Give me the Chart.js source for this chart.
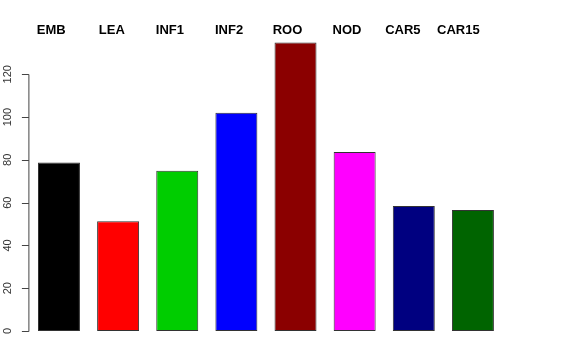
<!DOCTYPE html>
<html>
<head>
<meta charset="utf-8">
<script src="https://cdn.jsdelivr.net/npm/chart.js@4"></script>
<style>
html,body{margin:0;padding:0;background:#fff;}
#wrap{width:576px;height:360px;position:relative;}
</style>
</head>
<body>
<div id="wrap"><canvas id="c" width="576" height="360"></canvas></div>
<script>
const categories = ["EMB","LEA","INF1","INF2","ROO","NOD","CAR5","CAR15"];
const values = [78.8, 51.3, 74.9, 102, 134.8, 83.7, 58.4, 56.6];
const barColors = ["#000000","#FF0000","#00CD00","#0000FF","#8B0000","#FF00FF","#000080","#006400"];
const yTicks = [0,20,40,60,80,100,120];
const labelSlots = [0,1,2,3,4,5,6,7];

const axisPlugin = {
  id: 'rAxis',
  afterDraw(chart) {
    const ctx = chart.ctx;
    const y = chart.scales.y;
    const xl = chart.scales.xl;
    const left = chart.chartArea.left - 0.5;
    ctx.save();
    ctx.strokeStyle = '#444';
    ctx.lineWidth = 1;
    ctx.beginPath();
    const yTop = Math.round(y.getPixelForValue(yTicks[yTicks.length-1])) + 0.5;
    const yBot = Math.round(y.getPixelForValue(yTicks[0])) + 0.5;
    ctx.moveTo(left, yTop); ctx.lineTo(left, yBot);
    yTicks.forEach(t => {
      const py = Math.round(y.getPixelForValue(t)) + 0.5;
      ctx.moveTo(left, py); ctx.lineTo(left - 7, py);
    });
    ctx.stroke();
    ctx.fillStyle = '#333';
    ctx.font = '11px "Liberation Sans", Arial, sans-serif';
    ctx.textAlign = 'center';
    ctx.textBaseline = 'middle';
    yTicks.forEach(t => {
      const py = y.getPixelForValue(t);
      ctx.save();
      ctx.translate(left - 21, py);
      ctx.rotate(-Math.PI/2);
      ctx.fillText(String(t), 0, 0);
      ctx.restore();
    });
    ctx.fillStyle = '#000';
    ctx.font = 'bold 13px "Liberation Sans", Arial, sans-serif';
    ctx.textAlign = 'right';
    ctx.textBaseline = 'alphabetic';
    labelSlots.forEach((s, i) => {
      ctx.fillText(categories[i], xl.getPixelForValue(s), 34);
    });
    ctx.restore();
  }
};

new Chart(document.getElementById('c'), {
  type: 'bar',
  data: {
    labels: categories,
    datasets: [{
      data: values,
      backgroundColor: barColors,
      borderColor: '#333',
      borderWidth: 1,
      borderSkipped: false,
      barPercentage: 0.71,
      categoryPercentage: 1.0
    }]
  },
  options: {
    responsive: false,
    animation: false,
    devicePixelRatio: 1,
    layout: { padding: { left: 29.4, right: 73.5, top: 31.5, bottom: 29 } },
    plugins: { legend: { display: false }, tooltip: { enabled: false }, title: { display: false } },
    scales: {
      x: { type: 'category', display: false, offset: true },
      xl: { type: 'linear', display: false, offset: false, beginAtZero: false, min: -0.614, max: 7.386, grid: { offset: false } },
      y: { type: 'linear', display: false, min: 0, max: 140 }
    }
  },
  plugins: [axisPlugin]
});
</script>
</body>
</html>
